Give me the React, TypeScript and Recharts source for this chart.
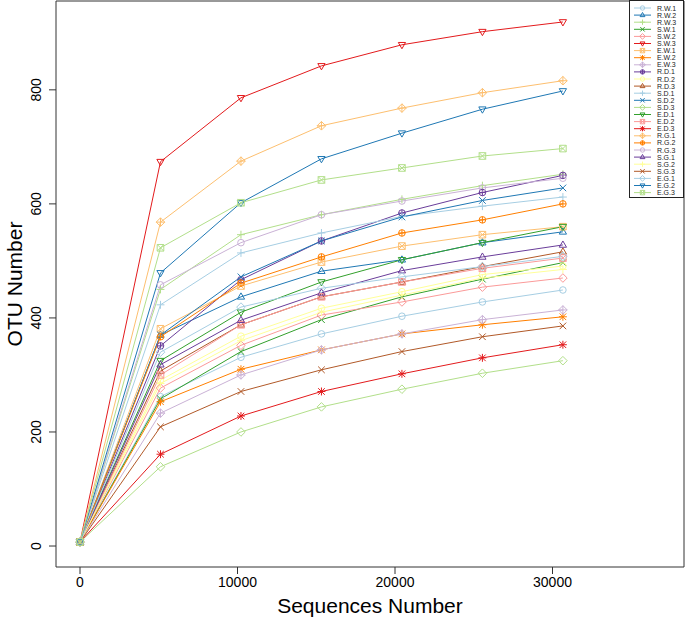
import { LineChart, Line, XAxis, YAxis, Legend, ReferenceArea } from "recharts";

// rarefaction depths
const depth = [0, 5110, 10220, 15330, 20440, 25550, 30660];

const samples = [
  "R.W.1", "R.W.2", "R.W.3", "S.W.1", "S.W.2", "S.W.3", "E.W.1", "E.W.2", "E.W.3",
  "R.D.1", "R.D.2", "R.D.3", "S.D.1", "S.D.2", "S.D.3", "E.D.1", "E.D.2", "E.D.3",
  "R.G.1", "R.G.2", "R.G.3", "S.G.1", "S.G.2", "S.G.3", "E.G.1", "E.G.2", "E.G.3",
];

const rw1 = [7, 262, 331, 372, 403, 428, 449];
const rw2 = [7, 370, 437, 482, 502, 532, 551];
const rw3 = [7, 450, 546, 581, 608, 632, 652];
const sw1 = [7, 258, 341, 397, 437, 468, 497];
const sw2 = [7, 277, 352, 405, 428, 454, 470];
const sw3 = [7, 674, 786, 842, 879, 902, 919];
const ew1 = [7, 381, 456, 498, 526, 546, 560];
const ew2 = [7, 253, 310, 344, 372, 388, 402];
const ew3 = [7, 233, 300, 344, 372, 397, 414];
const rd1 = [7, 351, 467, 535, 584, 620, 650];
const rd2 = [7, 291, 368, 417, 446, 476, 491];
const rd3 = [7, 307, 388, 437, 463, 490, 516];
const sd1 = [7, 423, 514, 549, 578, 596, 612];
const sd2 = [7, 370, 472, 535, 577, 606, 628];
const sd3 = [7, 139, 200, 244, 275, 303, 325];
const ed1 = [7, 325, 410, 463, 502, 532, 560];
const ed2 = [7, 300, 388, 437, 463, 487, 505];
const ed3 = [7, 161, 228, 271, 302, 330, 353];
const rg1 = [7, 568, 675, 737, 768, 795, 816];
const rg2 = [7, 367, 461, 507, 549, 572, 600];
const rg3 = [7, 458, 532, 581, 605, 628, 645];
const sg1 = [7, 318, 396, 444, 483, 507, 528];
const sg2 = [7, 285, 360, 410, 440, 470, 485];
const sg3 = [7, 209, 271, 309, 341, 367, 386];
const eg1 = [7, 340, 419, 452, 472, 490, 508];
const eg2 = [7, 479, 602, 679, 724, 766, 798];
const eg3 = [7, 523, 602, 642, 663, 684, 697];

const values = [
  rw1, rw2, rw3, sw1, sw2, sw3, ew1, ew2, ew3,
  rd1, rd2, rd3, sd1, sd2, sd3, ed1, ed2, ed3,
  rg1, rg2, rg3, sg1, sg2, sg3, eg1, eg2, eg3,
];

const xTicks = [0, 10000, 20000, 30000];
const yTicks = [0, 200, 400, 600, 800];

// RColorBrewer "Paired"
const palette = [
  "#A6CEE3", "#1F78B4", "#B2DF8A", "#33A02C", "#FB9A99", "#E31A1C",
  "#FDBF6F", "#FF7F00", "#CAB2D6", "#6A3D9A", "#FFFF99", "#B15928",
];

const data = depth.map((d, i) => {
  const row: any = { depth: d };
  samples.forEach((s, j) => {
    row[s] = values[j][i];
  });
  return row;
});

const font = "'Liberation Sans', Arial, sans-serif";

// R pch 1..10
const Marker = ({ cx, cy, pch, color, s = 3.3 }: any) => {
  const p = { fill: "none", stroke: color, strokeWidth: 1 };
  switch (pch) {
    case 0:
      return <circle cx={cx} cy={cy} r={s} {...p} />;
    case 1:
      return <polygon points={`${cx},${cy - s * 1.2} ${cx - s * 1.1},${cy + s * 0.7} ${cx + s * 1.1},${cy + s * 0.7}`} {...p} />;
    case 2:
      return <path d={`M${cx - s * 1.2},${cy}H${cx + s * 1.2}M${cx},${cy - s * 1.2}V${cy + s * 1.2}`} {...p} />;
    case 3:
      return <path d={`M${cx - s},${cy - s}L${cx + s},${cy + s}M${cx - s},${cy + s}L${cx + s},${cy - s}`} {...p} />;
    case 4:
      return <polygon points={`${cx},${cy - s * 1.3} ${cx + s * 1.3},${cy} ${cx},${cy + s * 1.3} ${cx - s * 1.3},${cy}`} {...p} />;
    case 5:
      return <polygon points={`${cx},${cy + s * 1.2} ${cx - s * 1.1},${cy - s * 0.7} ${cx + s * 1.1},${cy - s * 0.7}`} {...p} />;
    case 6:
      return (
        <path
          d={`M${cx - s},${cy - s}H${cx + s}V${cy + s}H${cx - s}ZM${cx - s},${cy - s}L${cx + s},${cy + s}M${cx - s},${cy + s}L${cx + s},${cy - s}`}
          {...p}
        />
      );
    case 7:
      return (
        <path
          d={`M${cx - s * 1.2},${cy}H${cx + s * 1.2}M${cx},${cy - s * 1.2}V${cy + s * 1.2}M${cx - s},${cy - s}L${cx + s},${cy + s}M${cx - s},${cy + s}L${cx + s},${cy - s}`}
          {...p}
        />
      );
    case 8:
      return (
        <path
          d={`M${cx},${cy - s * 1.3}L${cx + s * 1.3},${cy}L${cx},${cy + s * 1.3}L${cx - s * 1.3},${cy}ZM${cx - s * 1.3},${cy}H${cx + s * 1.3}M${cx},${cy - s * 1.3}V${cy + s * 1.3}`}
          {...p}
        />
      );
    default:
      return (
        <g>
          <circle cx={cx} cy={cy} r={s} {...p} />
          <path d={`M${cx - s},${cy}H${cx + s}M${cx},${cy - s}V${cy + s}`} {...p} />
        </g>
      );
  }
};

const YTick = (props: any) => {
  const { y, payload } = props;
  const x = 36;
  return (
    <text
      x={x}
      y={y}
      transform={`rotate(-90, ${x}, ${y})`}
      textAnchor="middle"
      dominantBaseline="central"
      fontSize={14}
      fontFamily={font}
      fill="#000"
    >
      {payload.value}
    </text>
  );
};

const YTitle = () => (
  <text
    x={14}
    y={284}
    transform="rotate(-90, 14, 284)"
    textAnchor="middle"
    dominantBaseline="central"
    fontSize={21}
    fontFamily={font}
    fill="#000"
  >
    OTU Number
  </text>
);

const XTitle = () => (
  <text x={370} y={605} textAnchor="middle" dominantBaseline="central" fontSize={21} fontFamily={font} fill="#000">
    Sequences Number
  </text>
);

const rowH = 7.1;

const LegendBox = () => (
  <svg width={56} height={200} style={{ display: "block" }}>
    <rect x={0.5} y={0.5} width={54} height={197} fill="#fff" stroke="#222" />
    {samples.map((s, i) => {
      const cy = 8 + i * rowH;
      const c = palette[i % 12];
      return (
        <g key={s}>
          <line x1={5} x2={22} y1={cy} y2={cy} stroke={c} />
          <Marker cx={13.5} cy={cy} pch={i % 10} color={c} s={2.2} />
          <text x={28} y={cy} dominantBaseline="central" fontSize={7} fontFamily={font} fill="#222">
            {s}
          </text>
        </g>
      );
    })}
  </svg>
);

export default function App() {
  return (
    <div style={{ position: "absolute", left: 0, top: 0, width: 685, height: 618, overflow: "hidden", background: "#fff" }}>
      <LineChart width={685} height={618} data={data} margin={{ top: 1, right: 1, left: 0, bottom: 0 }}>
        <XAxis
          dataKey="depth"
          type="number"
          domain={[-1524, 38349]}
          ticks={xTicks}
          allowDataOverflow
          axisLine={false}
          tickSize={7}
          tickLine={{ stroke: "#333" }}
          tick={{ fontSize: 14, fontFamily: font, fill: "#000" }}
          tickMargin={3}
          height={51}
          label={<XTitle />}
        />
        <YAxis
          type="number"
          domain={[-36.8, 955.8]}
          ticks={yTicks}
          allowDataOverflow
          axisLine={false}
          tickSize={7}
          tickLine={{ stroke: "#333" }}
          tick={<YTick />}
          width={56}
          label={<YTitle />}
        />
        <ReferenceArea x1={-1524} x2={38349} y1={-36.8} y2={955.8} fill="none" stroke="#333" strokeWidth={1} />
        {samples.map((s, i) => (
          <Line
            key={s}
            dataKey={s}
            type="linear"
            stroke={palette[i % 12]}
            strokeWidth={1}
            isAnimationActive={false}
            dot={(props: any) => (
              <g key={`${s}-${props.index}`}>
                <Marker cx={props.cx} cy={props.cy} pch={i % 10} color={palette[i % 12]} />
              </g>
            )}
            activeDot={false}
          />
        ))}
        <Legend
          layout="horizontal"
          verticalAlign="middle"
          align="center"
          wrapperStyle={{ left: 629, top: 0, width: 56, height: 200 }}
          content={() => <LegendBox />}
        />
      </LineChart>
    </div>
  );
}
